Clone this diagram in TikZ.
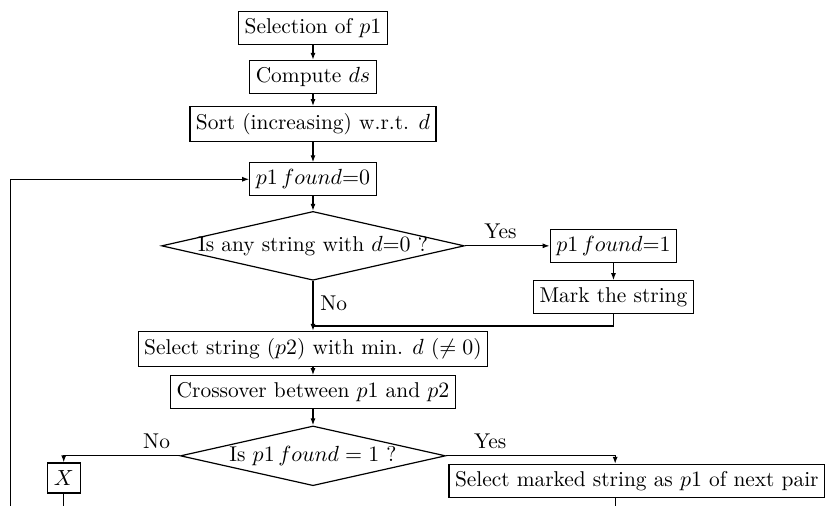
\documentclass[tikz,border=0pt]{standalone}
\usepackage{amsmath}
\usepackage{tikz}
\usetikzlibrary{arrows.meta, shapes.geometric}
\tikzset{
  block/.style={rectangle, draw=black, line width=0.6pt, align=center, inner xsep=3pt,
                minimum height=15pt, font=\fontsize{10.7}{13}\selectfont},
  decision/.style={diamond, draw=black, line width=0.6pt, aspect=4.4,
                   inner xsep=-8pt, inner ysep=0pt, font=\fontsize{10.7}{13}\selectfont},
  arrowline/.style={-{Latex[length=3.5pt,width=2.5pt]}, line width=0.6pt},
  plainline/.style={line width=0.6pt},
  tag/.style={font=\fontsize{10.7}{13}\selectfont},
}
\begin{document}
\begin{tikzpicture}
\useasboundingbox (0,0) rectangle (14.55,-8.89);
\node[block] (sel)    at (5.50,-0.49) {Selection of $p1$};
\node[block] (comp)   at (5.50,-1.35) {Compute $ds$};
\node[block] (sort)   at (5.50,-2.18) {Sort (increasing) w.r.t. $d$};
\node[block] (found0) at (5.50,-3.15) {$p1\,found{=}0$};
\node[decision, minimum width=5.32cm, minimum height=1.21cm] (ask) at (5.50,-4.32)
     {Is any string with $d{=}0$ ?};
\node[block] (found1) at (10.78,-4.32) {$p1\,found{=}1$};
\node[block] (mark)   at (10.78,-5.22) {Mark the string};
\coordinate (join) at (5.50,-5.73);
\node[block] (select) at (5.50,-6.13) {Select string ($p2$) with min. $d$ ($\neq 0$)};
\node[block] (cross)  at (5.50,-6.89) {Crossover between $p1$ and $p2$};
\node[decision, minimum width=4.66cm, minimum height=1.05cm] (askagain) at (5.50,-8.01)
     {Is $p1\,found = 1$ ?};
\node[block, minimum width=16.5pt, inner xsep=0pt] (xbox) at (1.12,-8.40) {$X$};
\node[block] (next)   at (11.19,-8.45) {Select marked string as $p1$ of next pair};
\coordinate (xend)    at (1.12,-8.89);
\coordinate (nextend) at (10.81,-8.89);
\coordinate (loop)    at (0.18,-8.89);

\draw[arrowline] (sel) -- (comp);
\draw[arrowline] (comp) -- (sort);
\draw[arrowline] (sort) -- (found0);
\draw[arrowline] (found0) -- (ask);
\draw[arrowline] (ask.east) -- node[above, pos=0.42, tag] {Yes} (found1.west);
\draw[arrowline] (found1) -- (mark);
\draw[arrowline] (ask.south) -- node[right, pos=0.45, tag] {No} (select);
\draw[plainline] (mark.south) |- (join);
\draw[arrowline] (select) -- (cross);
\draw[arrowline] (cross) -- (askagain);
\draw[arrowline] (askagain.west) -| node[above, pos=0.1, tag] {No} (xbox.north);
\draw[arrowline] (askagain.east) -| node[above, pos=0.13, tag] {Yes} ([xshift=-0.38cm]next.north);
\draw[plainline] (xbox.south) -- (xend);
\draw[plainline] ([xshift=-0.38cm]next.south) -- (nextend);
\draw[arrowline] (loop) |- (found0.west);
\end{tikzpicture}
\end{document}
